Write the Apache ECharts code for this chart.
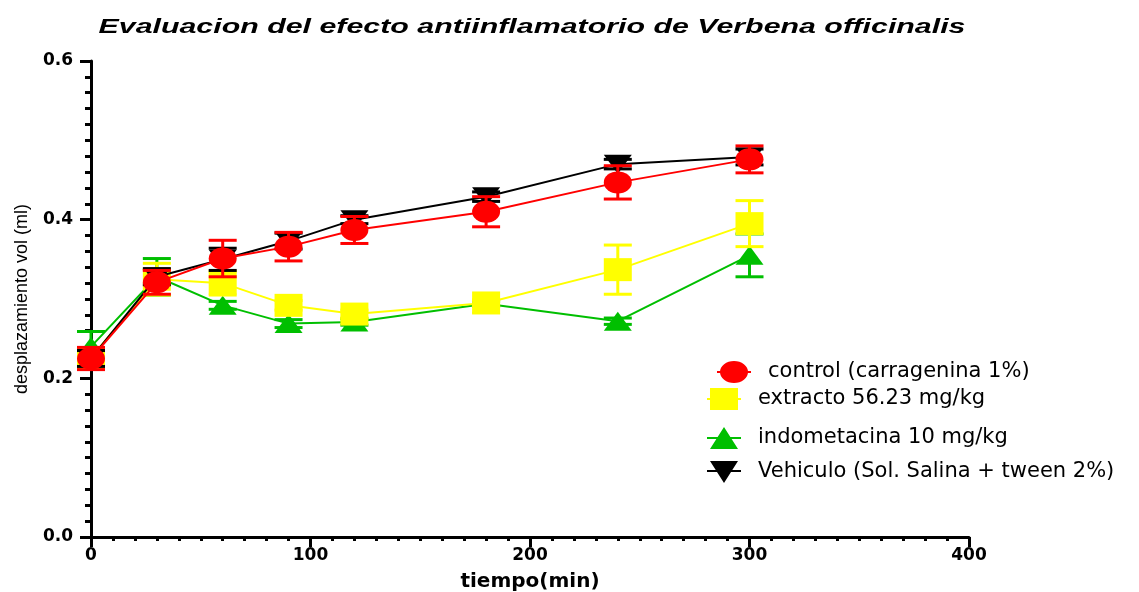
<!DOCTYPE html>
<html>
<head>
<meta charset="utf-8">
<script src="https://cdn.jsdelivr.net/npm/echarts@6/dist/echarts.min.js"></script>
<style>html,body{margin:0;padding:0;background:#fff}#c{width:1139px;height:592px}</style>
</head>
<body>
<div id="c"></div>
<script>
var times = [0, 30, 60, 90, 120, 180, 240, 300];
var controlVals = [0.225, 0.321, 0.351, 0.366, 0.387, 0.410, 0.447, 0.476];
var controlErr  = [0.014, 0.015, 0.023, 0.018, 0.017, 0.019, 0.021, 0.017];
var extractoVals = [0.226, 0.325, 0.320, 0.292, 0.281, 0.295, 0.337, 0.395];
var extractoErr  = [0.012, 0.020, 0.015, 0.006, 0.005, 0.004, 0.031, 0.029];
var indoVals = [0.240, 0.328, 0.292, 0.269, 0.271, 0.294, 0.272, 0.355];
var indoErr  = [0.019, 0.023, 0.005, 0.005, 0.004, 0.003, 0.004, 0.027];
var vehicVals = [0.225, 0.328, 0.350, 0.373, 0.400, 0.429, 0.470, 0.479];
var vehicErr  = [0.010, 0.010, 0.014, 0.010, 0.005, 0.006, 0.006, 0.010];
var names = ['control (carragenina 1%)', 'extracto 56.23 mg/kg', 'indometacina 10 mg/kg', 'Vehiculo (Sol. Salina + tween 2%)'];
var titleText = 'Evaluacion del efecto antiinflamatorio de Verbena officinalis';
var xTicks = [0, 100, 200, 300, 400];
var yTicks = [0.0, 0.2, 0.4, 0.6];

var colors = ['#ff0000', '#ffff00', '#00bf00', '#000000'];

function pts(vals){ return times.map(function(t,i){ return [t, vals[i]]; }); }
function errPts(vals, errs){ return times.map(function(t,i){ return [t, vals[i], errs[i]]; }); }

function errRender(color){
  return function(params, api){
    var x = api.value(0), y = api.value(1), e = api.value(2);
    var hi = api.coord([x, y + e]), lo = api.coord([x, y - e]);
    var hw = 14;
    var st = {stroke: color, lineWidth: 3};
    return {type: 'group', children: [
      {type: 'line', shape: {x1: hi[0], y1: hi[1], x2: lo[0], y2: lo[1]}, style: st},
      {type: 'line', shape: {x1: hi[0]-hw, y1: hi[1], x2: hi[0]+hw, y2: hi[1]}, style: st},
      {type: 'line', shape: {x1: lo[0]-hw, y1: lo[1], x2: lo[0]+hw, y2: lo[1]}, style: st}
    ]};
  };
}

var legendIcons = [
  'path://M0,10 L34,10 L34,12 L0,12 Z M3,11 A14,11 0 0,1 31,11 A14,11 0 0,1 3,11 Z',
  'path://M0,10 L34,10 L34,12 L0,12 Z M3,0 L31,0 L31,22 L3,22 Z',
  'path://M0,10 L34,10 L34,12 L0,12 Z M17,0 L31,22 L3,22 Z',
  'path://M0,9 L34,9 L34,11 L0,11 Z M3,0 L31,0 L17,22 Z'
];

var groups = [
  {name: names[0], vals: controlVals, errs: controlErr, color: colors[0], symbol: 'circle', size: [28, 22], z: 9},
  {name: names[1], vals: extractoVals, errs: extractoErr, color: colors[1], symbol: 'rect', size: [28, 23], z: 5},
  {name: names[2], vals: indoVals, errs: indoErr, color: colors[2], symbol: 'triangle', size: [28, 19], z: 3},
  {name: names[3], vals: vehicVals, errs: vehicErr, color: colors[3], symbol: 'path://M0,0 L10,0 L5,10 Z', size: [28, 19], z: 7}
];

var series = [];
groups.forEach(function(g){
  series.push({
    type: 'custom', name: g.name + ' err', z: g.z - 1,
    renderItem: errRender(g.color),
    encode: {x: 0, y: 1},
    data: errPts(g.vals, g.errs),
    silent: true
  });
  series.push({
    type: 'line', name: g.name, z: g.z,
    data: pts(g.vals),
    symbol: g.symbol, symbolSize: g.size,
    itemStyle: {color: g.color, opacity: 1},
    lineStyle: {color: g.color, width: 2},
    showAllSymbol: true
  });
});

var legendTops = [356, 383, 422, 456];
var legendLefts = [712, 702, 702, 702];
var legends = groups.map(function(g, i){
  return {
    data: [{name: g.name, icon: legendIcons[i]}], left: legendLefts[i], top: legendTops[i], orient: 'vertical',
    itemWidth: 34, itemHeight: 22, selectedMode: false,
    textStyle: {fontFamily: 'DejaVu Sans', fontSize: 21, color: '#000', padding: [0, 0, 0, 12]}
  };
});

// title stretched horizontally like the reference
var titleFont = 'italic bold 20px "Liberation Sans"';
var mctx = document.createElement('canvas').getContext('2d');
mctx.font = titleFont;
var titleW = mctx.measureText(titleText).width || 576;
var titleScale = 867 / titleW;

var chart = echarts.init(document.getElementById('c'), null, {renderer: 'canvas'});
chart.setOption({
  animation: false,
  backgroundColor: '#fff',
  graphic: [{
    type: 'text', x: 532, y: 27, scaleX: titleScale, scaleY: 1,
    style: {text: titleText, fontFamily: 'Liberation Sans', fontSize: 20, fontWeight: 'bold', fontStyle: 'italic',
      fill: '#000', align: 'center', verticalAlign: 'middle', textAlign: 'center', textVerticalAlign: 'middle'}
  }],
  legend: legends,
  grid: {left: 91, right: 170, top: 61, bottom: 55, containLabel: false, outerBoundsMode: 'none'},
  xAxis: {
    type: 'value', min: xTicks[0], max: xTicks[xTicks.length-1], interval: 100,
    name: 'tiempo(min)', nameLocation: 'middle', nameGap: 35,
    nameTextStyle: {fontFamily: 'DejaVu Sans', fontWeight: 'bold', fontSize: 20, color: '#000'},
    axisLine: {lineStyle: {color: '#000', width: 3}},
    axisTick: {length: 10, lineStyle: {color: '#000', width: 3}},
    minorTick: {show: true, splitNumber: 10, length: 4, lineStyle: {color: '#000', width: 3}},
    axisLabel: {margin: 10, fontFamily: 'DejaVu Sans', fontWeight: 'bold', fontSize: 17, color: '#000'},
    splitLine: {show: false}
  },
  yAxis: {
    type: 'value', min: yTicks[0], max: yTicks[yTicks.length-1], interval: 0.2,
    name: 'desplazamiento vol (ml)', nameLocation: 'middle', nameGap: 60,
    nameTextStyle: {fontFamily: 'Liberation Sans', fontSize: 18, color: '#000'},
    axisLine: {show: true, lineStyle: {color: '#000', width: 3}},
    axisTick: {show: true, length: 11, lineStyle: {color: '#000', width: 3}},
    minorTick: {show: true, splitNumber: 10, length: 6, lineStyle: {color: '#000', width: 3}},
    axisLabel: {margin: 18, fontFamily: 'DejaVu Sans', fontWeight: 'bold', fontSize: 17, color: '#000',
      formatter: function(v){ return v.toFixed(1); }},
    splitLine: {show: false}
  },
  series: series
});
</script>
</body>
</html>
